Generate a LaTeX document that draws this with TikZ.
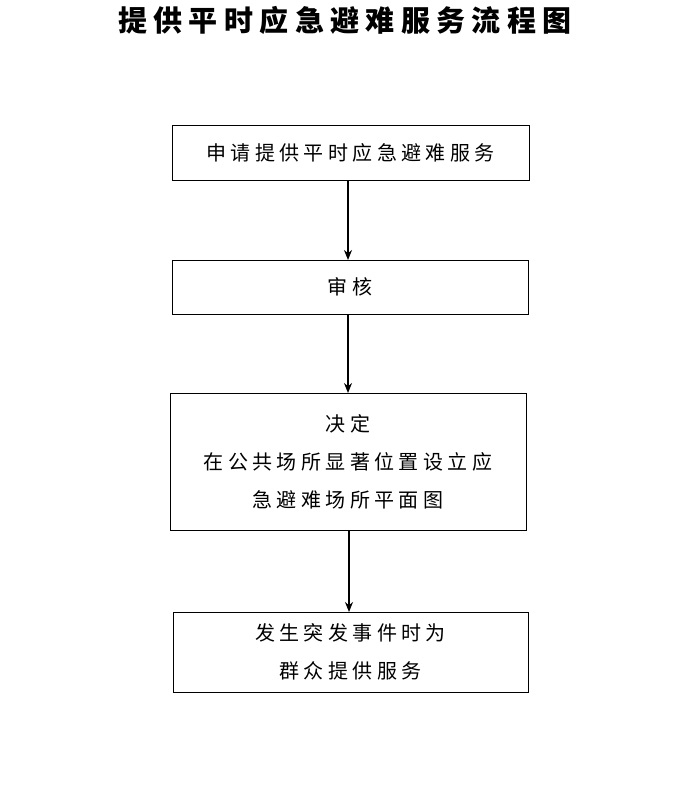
\documentclass[tikz,border=0pt]{standalone}
\usepackage{fontspec}
\newfontfamily\cjk{Noto Sans CJK SC}
\newfontfamily\cjks[LetterSpace=22]{Noto Sans CJK SC}
\usetikzlibrary{arrows.meta}
\begin{document}
\begin{tikzpicture}[x=1pt,y=1pt,
  box/.style={draw,line width=0.8pt,inner sep=0pt,align=center,font=\cjks\fontsize{20}{38}\selectfont},
  arr/.style={-{Stealth[length=10pt,width=8pt]},line width=1.4pt}]
\useasboundingbox (0,0) rectangle (700,792);
\node[font=\cjks\bfseries\fontsize{29}{32}\selectfont] (t) at (345,772) {提供平时应急避难服务流程图};
\node[box,minimum width=357pt,minimum height=55pt] (b1) at (350.5,639.5) {申请提供平时应急避难服务};
\node[box,minimum width=356pt,minimum height=54pt] (b2) at (350,505) {审核};
\node[box,minimum width=356pt,minimum height=137pt] (b3) at (348,330.5) {决定\\在公共场所显著位置设立应\\急避难场所平面图};
\node[box,minimum width=355pt,minimum height=80pt] (b4) at (350.5,140) {发生突发事件时为\\群众提供服务};
\draw[arr] (348,612) -- (348,532);
\draw[arr] (348,478) -- (348,399);
\draw[arr] (349,262) -- (349,180);
\end{tikzpicture}
\end{document}
